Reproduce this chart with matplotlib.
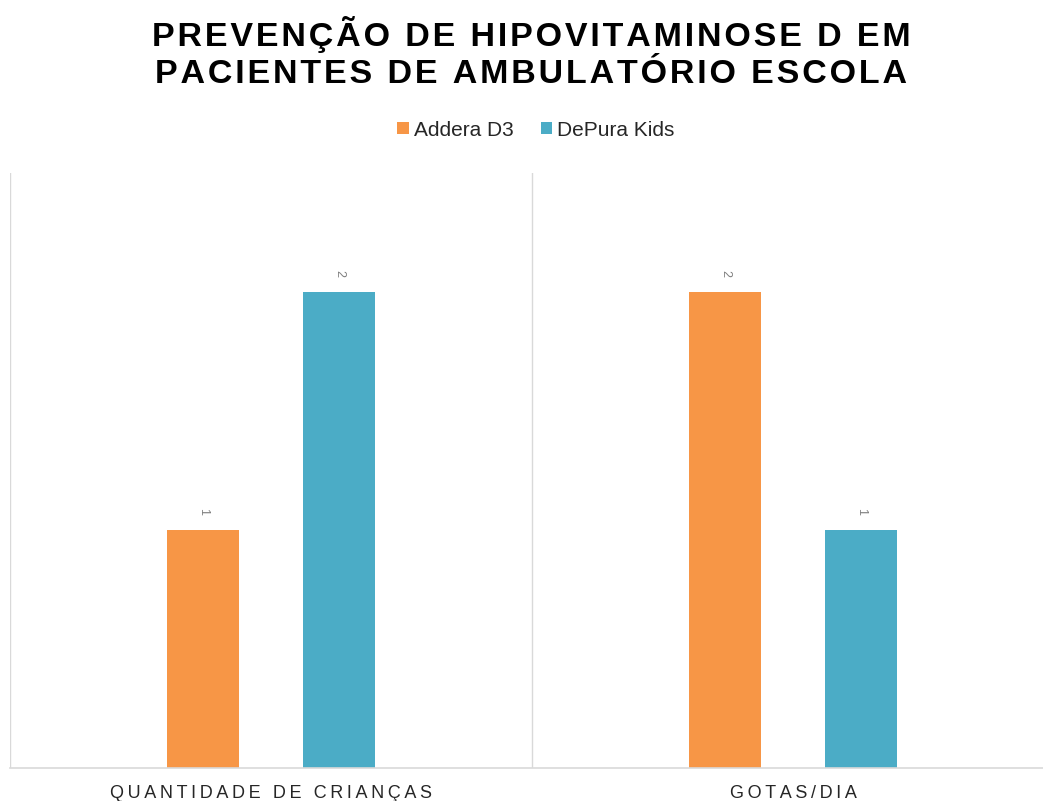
import numpy as np
import matplotlib
matplotlib.use('Agg')
import matplotlib.pyplot as plt

plt.rcParams['font.family'] = ['Liberation Sans', 'DejaVu Sans']

categorias = ['QUANTIDADE DE CRIANÇAS', 'GOTAS/DIA']
series = ['Addera D3', 'DePura Kids']
addera = [1, 2]
depura = [2, 1]
cores = ['#F79646', '#4BACC6']
titulo = 'PREVENÇÃO DE HIPOVITAMINOSE D EM\nPACIENTES DE AMBULATÓRIO ESCOLA'


def espacar(txt, sep='\u200a'):
    # simula o espaçamento entre letras do Excel
    return '\n'.join(sep.join(linha) for linha in txt.split('\n'))


fig = plt.figure(figsize=(10.43, 8.01), dpi=100)
ax = fig.add_axes([10/1043, 33/801, 1044/1043, 595/801])

x = np.arange(len(categorias))
larg = 0.138
desl = 0.13
b1 = ax.bar(x - desl, addera, larg, color=cores[0], label=series[0])
b2 = ax.bar(x + desl, depura, larg, color=cores[1], label=series[1])

for barras in [b1, b2]:
    for b in barras:
        ax.annotate(str(int(b.get_height())), (b.get_x() + b.get_width()/2, b.get_height()),
                    xytext=(0, 18), textcoords='offset pixels', ha='center', va='center',
                    rotation=-90, fontsize=9, color='#7F7F7F')

for xv in [-0.5, 0.5, 1.5]:
    ax.axvline(xv, color='#D9D9D9', lw=1)

ax.set_xlim(-0.5, 1.5)
ax.set_ylim(0, 2.5)
ax.set_yticks([])
ax.set_xticks(x)
ax.set_xticklabels([espacar(c, '\u2009') for c in categorias], fontsize=13, color='#262626')
ax.tick_params(axis='x', length=0, pad=12)
for s in ['top', 'right', 'left']:
    ax.spines[s].set_visible(False)
ax.spines['bottom'].set_color('#D9D9D9')
ax.spines['bottom'].set_linewidth(1.2)

fig.text(531/1043, 1 - 53/801, espacar(titulo), ha='center', va='center',
         fontsize=24.5, fontweight='bold', color='black', linespacing=1.28)

fig.legend(handles=[b1, b2], labels=series, loc='center', bbox_to_anchor=(536/1043, 1 - 130/801),
           ncol=2, frameon=False, fontsize=15, handlelength=0.55, handleheight=0.55,
           handletextpad=0.25, columnspacing=1.3, labelcolor='#262626')

fig.savefig('out.png', dpi=100)
